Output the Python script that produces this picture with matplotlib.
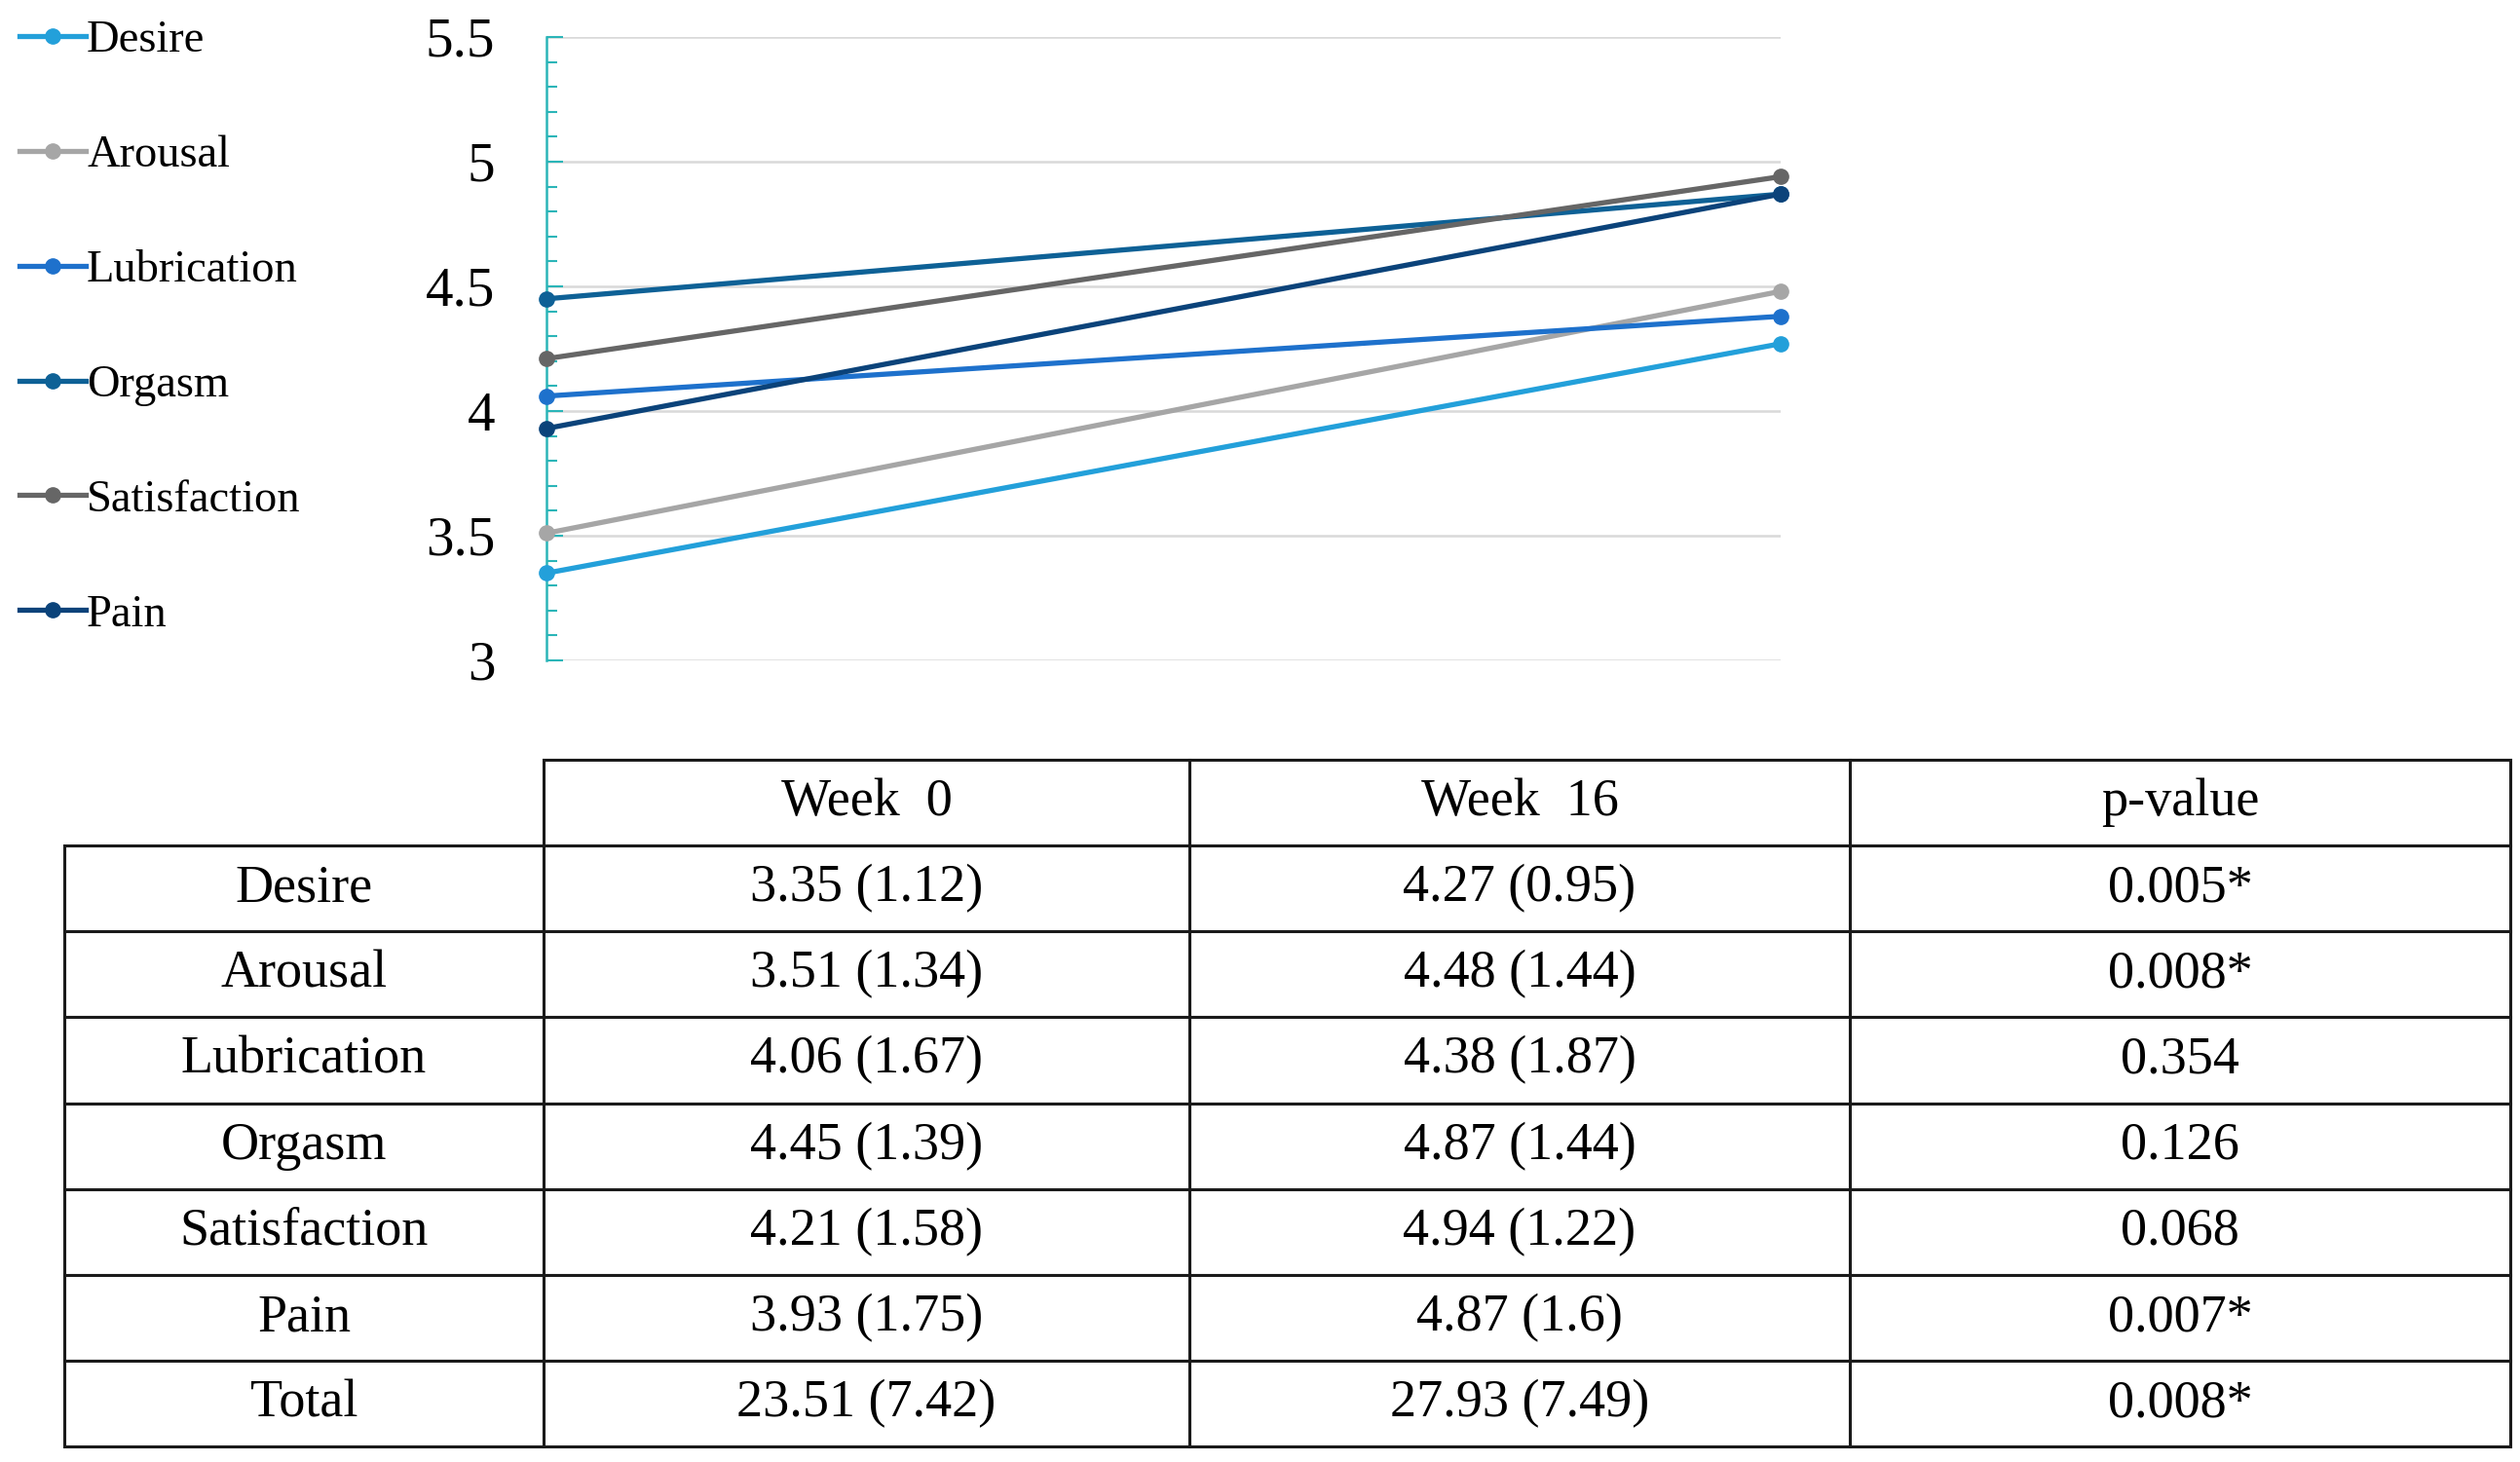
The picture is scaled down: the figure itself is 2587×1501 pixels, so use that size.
import matplotlib
matplotlib.use("Agg")
import matplotlib.pyplot as plt
from matplotlib.ticker import MultipleLocator

plt.rcParams['font.family'] = ['Liberation Serif', 'DejaVu Serif']

# --- data ---
domains = ['Desire', 'Arousal', 'Lubrication', 'Orgasm', 'Satisfaction', 'Pain']
week0 = [3.35, 3.51, 4.06, 4.45, 4.21, 3.93]
week16 = [4.27, 4.48, 4.38, 4.87, 4.94, 4.87]
colors = ['#23A0DA', '#A6A6A6', '#1E71CC', '#0E6196', '#666666', '#0B437A']

col_labels = ['', 'Week  0', 'Week  16', 'p-value']
row_names = ['Desire', 'Arousal', 'Lubrication', 'Orgasm', 'Satisfaction', 'Pain', 'Total']
week0_txt = ['3.35 (1.12)', '3.51 (1.34)', '4.06 (1.67)', '4.45 (1.39)',
             '4.21 (1.58)', '3.93 (1.75)', '23.51 (7.42)']
week16_txt = ['4.27 (0.95)', '4.48 (1.44)', '4.38 (1.87)', '4.87 (1.44)',
              '4.94 (1.22)', '4.87 (1.6)', '27.93 (7.49)']
pvals = ['0.005*', '0.008*', '0.354', '0.126', '0.068', '0.007*', '0.008*']

W, H = 2587, 1501
fig = plt.figure(figsize=(W / 100, H / 100), dpi=100)

# --- line chart ---
ax = fig.add_axes([561 / W, 1 - 678 / H, (1828 - 561) / W, (678 - 38) / H])
for name, a, b, c in zip(domains, week0, week16, colors):
    ax.plot([0, 1], [a, b], color=c, lw=3.8, marker='o', markersize=11,
            label=name, clip_on=False, zorder=3)

ax.set_xlim(0, 1)
ax.set_ylim(3, 5.5)
ax.yaxis.set_minor_locator(MultipleLocator(0.1))
ax.set_yticks([3, 3.5, 4, 4.5, 5, 5.5])
ax.set_yticklabels(['3', '3.5', '4', '4.5', '5', '5.5'])
ax.set_xticks([])
ax.grid(axis='y', color='#D9D9D9', lw=1.8)
for s in ['top', 'right', 'bottom']:
    ax.spines[s].set_visible(False)
ax.spines['left'].set_color('#2BB5B8')
ax.spines['left'].set_linewidth(1.8)
ax.tick_params(axis='y', which='major', direction='in', length=12, width=1.5,
               color='#2BB5B8', labelsize=41, pad=38)
ax.tick_params(axis='y', which='minor', direction='in', length=8, width=1.5,
               color='#2BB5B8')

fig.legend(loc='upper left', bbox_to_anchor=(-0.003, 1.005), frameon=False,
           fontsize=33.5, handlelength=1.45, handletextpad=0.03,
           labelspacing=1.62, borderaxespad=0.2)

# --- table ---
tax = fig.add_axes([0, 0, 1, 1])
tax.axis('off')
cell_text = [list(r) for r in zip(row_names, week0_txt, week16_txt, pvals)]
col_w = [558 - 66, 1221 - 558, 1899 - 1221, 2577 - 1899]
tot = sum(col_w)
tbl = tax.table(cellText=cell_text, colLabels=col_labels,
                colWidths=[w / tot for w in col_w], cellLoc='center',
                bbox=[66 / W, 1 - 1485 / H, tot / W, (1485 - 780) / H])
tbl.auto_set_font_size(False)
tbl.set_fontsize(39)
for (r, c), cell in tbl.get_celld().items():
    cell.set_linewidth(2.2)
    cell.set_edgecolor('#1A1A1A')
tbl[0, 0].visible_edges = 'open'

fig.savefig('out.png', dpi=100)
